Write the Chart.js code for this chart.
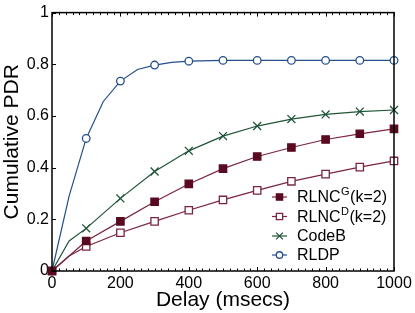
<!DOCTYPE html>
<html>
<head>
<meta charset="utf-8">
<script src="https://cdn.jsdelivr.net/npm/chart.js@4"></script>
<style>
html,body{margin:0;padding:0;background:#fff;}
#wrap{width:415px;height:313px;position:relative;}
</style>
</head>
<body>
<div id="wrap"><canvas id="c" width="415" height="313"></canvas></div>
<script>
// ---- data ----
const delayMain = [0, 50, 100, 200, 300, 400, 500, 600, 700, 800, 900, 1000];
const rlncG = [0, 0.058, 0.116, 0.192, 0.268, 0.337, 0.396, 0.443, 0.478, 0.509, 0.531, 0.55];
const rlncD = [0, 0.058, 0.095, 0.148, 0.192, 0.235, 0.275, 0.312, 0.347, 0.375, 0.402, 0.426];
const codeB = [0, 0.116, 0.165, 0.281, 0.385, 0.465, 0.522, 0.561, 0.588, 0.606, 0.617, 0.623];
const delayRLDP = [0, 50, 100, 150, 200, 250, 300, 350, 400, 500, 600, 700, 800, 900, 1000];
const rldp = [0, 0.29, 0.513, 0.656, 0.735, 0.78, 0.797, 0.807, 0.812, 0.815, 0.815, 0.815, 0.815, 0.815, 0.815];
const xTicks = [0, 200, 400, 600, 800, 1000];
const yTicks = [0, 0.2, 0.4, 0.6, 0.8, 1];
const seriesNames = ['RLNC', 'RLNC', 'CodeB', 'RLDP'];
const seriesSup = ['G', 'D', '', ''];
const seriesSuffix = ['(k=2)', '(k=2)', '', ''];

const FONT = 'Liberation Sans, Arial, Helvetica, sans-serif';
const cMaroon = '#5a0a20';
const cMaroonLine = '#7a2540';
const cGreen = '#1f5538';
const cBlue = '#244f8c';

function pts(xs, ys){ return xs.map((x,i)=>({x:x, y:ys[i]})); }
function markerR(r){ return (ctx)=> (ctx.raw && ctx.raw.x % 100 === 0) ? r : 0; }

const styles = [
  {color: cMaroonLine, fill: cMaroon, point: 'rect', r: 5.2},
  {color: cMaroonLine, fill: '#ffffff', point: 'rect', r: 5.2},
  {color: cGreen, fill: cGreen, point: 'crossRot', r: 5.6},
  {color: cBlue, fill: '#ffffff', point: 'circle', r: 3.8}
];

const allData = [pts(delayMain, rlncG), pts(delayMain, rlncD), pts(delayMain, codeB), pts(delayRLDP, rldp)];

const datasets = allData.map((d,i)=>({
  label: seriesNames[i] + seriesSup[i] + seriesSuffix[i],
  data: d,
  borderColor: styles[i].color,
  borderWidth: 1.2,
  pointStyle: styles[i].point,
  pointRadius: markerR(styles[i].r),
  pointHoverRadius: markerR(styles[i].r),
  pointBackgroundColor: styles[i].fill,
  pointBorderColor: i === 0 ? cMaroon : styles[i].color,
  pointBorderWidth: 1.3,
  fill: false,
  tension: 0,
  clip: false
}));

const framePlugin = {
  id: 'frame',
  afterDraw(chart){
    const {ctx, chartArea: a, scales} = chart;
    const xs = scales.x, ys = scales.y;
    ctx.save();
    ctx.strokeStyle = '#000';
    ctx.lineWidth = 1;
    ctx.beginPath();
    for (let v = 0; v <= 1000; v += 20){
      const px = Math.round(xs.getPixelForValue(v)) + 0.5;
      const len = (v % 200 === 0) ? 4 : 2.5;
      ctx.moveTo(px, a.bottom); ctx.lineTo(px, a.bottom - len);
      ctx.moveTo(px, a.top); ctx.lineTo(px, a.top + len);
    }
    yTicks.forEach(v=>{
      const py = Math.round(ys.getPixelForValue(v)) + 0.5;
      ctx.moveTo(a.left, py); ctx.lineTo(a.left + 4, py);
    });
    ctx.stroke();
    ctx.lineWidth = 1.5;
    ctx.strokeRect(a.left, a.top, a.right - a.left, a.bottom - a.top);
    ctx.restore();
  }
};

const legendPlugin = {
  id: 'customLegend',
  afterDraw(chart){
    const ctx = chart.ctx;
    const rows = [197, 216.5, 236, 255];
    const x0 = 272, x1 = 287, xm = 279.5, tx = 297;
    ctx.save();
    rows.forEach((y,i)=>{
      const s = styles[i];
      ctx.strokeStyle = s.color;
      ctx.lineWidth = 1.2;
      ctx.beginPath(); ctx.moveTo(x0, y); ctx.lineTo(x1, y); ctx.stroke();
      ctx.fillStyle = s.fill;
      ctx.strokeStyle = i === 0 ? cMaroon : s.color;
      ctx.lineWidth = 1.3;
      Chart.helpers.drawPoint(ctx, {pointStyle: s.point, radius: s.r * 0.85, borderWidth: 1.3}, xm, y);
      ctx.fillStyle = '#000';
      ctx.textBaseline = 'middle';
      ctx.textAlign = 'left';
      ctx.font = '16px ' + FONT;
      let x = tx;
      ctx.fillText(seriesNames[i], x, y + 1);
      x += ctx.measureText(seriesNames[i]).width;
      if (seriesSup[i]) {
        ctx.font = '11px ' + FONT;
        ctx.fillText(seriesSup[i], x + 0.5, y - 5);
        x += ctx.measureText(seriesSup[i]).width + 1;
        ctx.font = '16px ' + FONT;
      }
      if (seriesSuffix[i]) ctx.fillText(seriesSuffix[i], x, y + 1);
    });
    ctx.restore();
  }
};

new Chart(document.getElementById('c'), {
  type: 'line',
  data: { datasets: datasets },
  options: {
    responsive: false,
    animation: false,
    events: [],
    layout: { padding: { top: 9, right: 21, left: 0, bottom: 0 } },
    plugins: { legend: { display: false }, tooltip: { enabled: false } },
    scales: {
      x: {
        type: 'linear', min: 0, max: 1000,
        afterFit(s){ s.height = 42; },
        afterBuildTicks(s){ s.ticks = xTicks.map(v=>({value:v})); },
        grid: { display: false, drawTicks: false },
        border: { display: false },
        ticks: { color: '#000', font: { family: FONT, size: 16 }, padding: 3, maxRotation: 0,
          callback: (v)=> String(v) },
        title: { display: true, text: 'Delay (msecs)', color: '#000', font: { family: FONT, size: 21 }, padding: { top: 0, bottom: 0 } }
      },
      y: {
        type: 'linear', min: 0, max: 1,
        afterFit(s){ s.width = 52; },
        afterBuildTicks(s){ s.ticks = yTicks.map(v=>({value:v})); },
        grid: { display: false, drawTicks: false },
        border: { display: false },
        ticks: { color: '#000', font: { family: FONT, size: 16 }, padding: 3,
          callback: (v)=> (v === 0 || v === 1) ? String(v) : v.toFixed(1) },
        title: { display: true, text: 'Cumulative PDR', color: '#000', font: { family: FONT, size: 21 }, padding: { top: 0, bottom: 0 } }
      }
    }
  },
  plugins: [framePlugin, legendPlugin]
});
</script>
</body>
</html>
